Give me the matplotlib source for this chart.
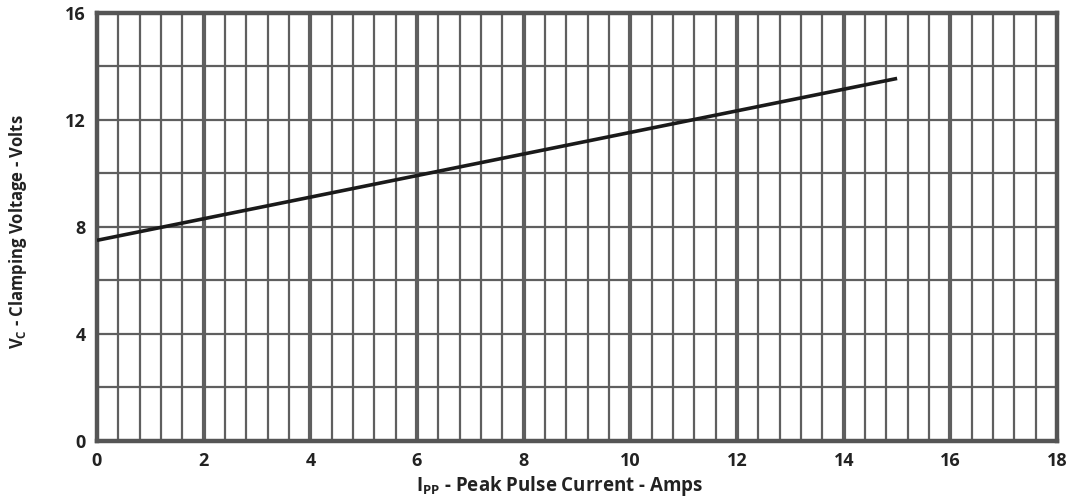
import matplotlib
matplotlib.use('Agg')
import matplotlib.pyplot as plt
import numpy as np

# Data
current = [0, 15]          # I_PP (A)
clamp_voltage = [7.5, 13.55]  # V_C (V)

x_ticks = [0, 2, 4, 6, 8, 10, 12, 14, 16, 18]
y_ticks = [0, 4, 8, 12, 16]

plt.rcParams['font.family'] = ['Open Sans', 'DejaVu Sans']
plt.rcParams['mathtext.fontset'] = 'custom'
plt.rcParams['mathtext.rm'] = 'Open Sans'
plt.rcParams['mathtext.bf'] = 'Open Sans:bold'

grid_c = '#5f5f5f'

fig = plt.figure(figsize=(10.74, 4.99), dpi=100)
ax = fig.add_axes([0.0903, 0.1162, 0.894, 0.858])

ax.set_xlim(0, 18)
ax.set_ylim(0, 16)

# Minor grid
for x in np.arange(0.4, 18, 0.4):
    if abs(x / 2 - round(x / 2)) < 1e-6:
        continue
    ax.axvline(x, color=grid_c, lw=1.6, zorder=1)
for x in x_ticks[1:-1]:
    ax.axvline(x, color=grid_c, lw=3.0, zorder=1)
for y in np.arange(2, 16, 2):
    ax.axhline(y, color=grid_c, lw=1.6, zorder=1)

# Curve
ax.plot(current, clamp_voltage, color='#1a1a1a', lw=2.6, solid_capstyle='butt', zorder=3)

for s in ax.spines.values():
    s.set_linewidth(3.2)
    s.set_color('#555555')

ax.set_xticks(x_ticks)
ax.set_yticks(y_ticks)
ax.tick_params(length=0, labelsize=13, pad=8)
for lab in ax.get_xticklabels() + ax.get_yticklabels():
    lab.set_fontweight('bold')
    lab.set_color('#222222')

ax.set_xlabel('$\\mathbf{I_{PP}}$ - Peak Pulse Current - Amps', fontsize=13.5,
              fontweight='bold', color='#222222', va='top')
ax.xaxis.set_label_coords(0.482, -0.078)
ax.set_ylabel('$\\mathbf{V_C}$ - Clamping Voltage - Volts', fontsize=12,
              fontweight='bold', color='#222222')
ax.yaxis.set_label_coords(-0.071, 0.49)

fig.savefig('out.png', dpi=100)
